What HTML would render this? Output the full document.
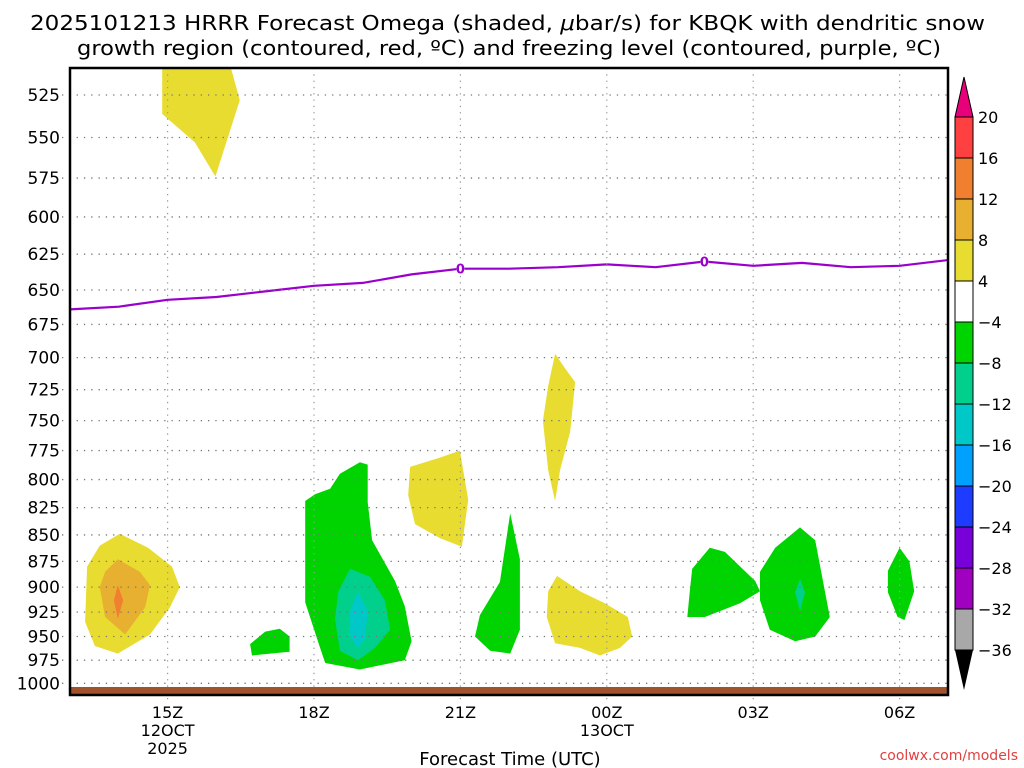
<!DOCTYPE html>
<html><head><meta charset="utf-8">
<style>
body{margin:0;background:#fff;}
svg{display:block;font-family:"DejaVu Sans","Liberation Sans",sans-serif;}
</style></head>
<body>
<svg id="chart" width="1024" height="768" viewBox="0 0 1024 768">
<text x="30" y="30" font-size="20" textLength="955" lengthAdjust="spacingAndGlyphs">2025101213 HRRR Forecast Omega (shaded, <tspan font-style="italic">μ</tspan>bar/s) for KBQK with dendritic snow</text>
<text x="77" y="55" font-size="20" textLength="864" lengthAdjust="spacingAndGlyphs">growth region (contoured, red, ºC) and freezing level (contoured, purple, ºC)</text>
<g id="plot"></g>
<text x="510" y="765" font-size="18" text-anchor="middle">Forecast Time (UTC)</text>
<text x="1018" y="760" font-size="14" text-anchor="end" fill="#e04040">coolwx.com/models</text>
<g id="cbar"></g>
</svg>
<script>
const pressureTicks=[525,550,575,600,625,650,675,700,725,750,775,800,825,850,875,900,925,950,975,1000];
const timeTicks=[{h:2,l:["15Z","12OCT","2025"]},{h:5,l:["18Z"]},{h:8,l:["21Z"]},{h:11,l:["00Z","13OCT"]},{h:14,l:["03Z"]},{h:17,l:["06Z"]}];
const freezingLevel=[664,662,657,655,651,647,645,639,635,635,634,632,634,630,633,631,634,633,629];
const freezingLabels=[8,13];
const cbLevels=[20,16,12,8,4,-4,-8,-12,-16,-20,-24,-28,-32,-36];
const cbColors=["#ff4040","#f08030","#e8b030","#e8dc30","#ffffff","#00d400","#00d08c","#00c8c8","#00a0ff","#1e3cff","#7800d8","#a000c0","#a8a8a8"];
const shapes=[
 {n:"yellow-top",c:"#e8dc30",p:[[1.89,508],[3.28,508],[3.48,528],[2.98,574],[2.56,553],[1.89,536]]},
 {n:"yellow-14z",c:"#e8dc30",p:[[1.02,849],[1.6,862],[2.09,880],[2.25,900],[2.05,920],[1.64,948],[0.98,968],[0.51,960],[0.31,935],[0.35,880],[0.61,860]]},
 {n:"orange-14z",c:"#e8b030",p:[[0.98,873],[1.43,885],[1.64,898],[1.54,920],[1.13,948],[0.72,930],[0.61,900],[0.72,885]]},
 {n:"darkorange-14z",c:"#f08030",p:[[0.98,898],[1.09,913],[0.98,932],[0.9,913]]},
 {n:"green-17z",c:"#00d400",p:[[3.69,958],[4.0,945],[4.3,942],[4.5,950],[4.5,966],[4.1,968],[3.73,970]]},
 {n:"green-19z",c:"#00d400",p:[[4.82,819],[5.02,813],[5.33,808],[5.53,795],[5.94,785],[6.1,787],[6.1,820],[6.19,855],[6.66,894],[6.86,919],[7.0,955],[6.86,975],[5.94,985],[5.23,978],[5.08,955],[4.82,915],[4.82,866]]},
 {n:"teal-19z",c:"#00d08c",p:[[5.74,882],[6.15,890],[6.45,913],[6.56,943],[6.25,962],[5.9,975],[5.53,965],[5.43,932],[5.5,904]]},
 {n:"cyan-19z",c:"#00c8c8",p:[[5.9,904],[6.1,924],[6.04,953],[5.9,962],[5.74,950],[5.74,924]]},
 {n:"yellow-21z",c:"#e8dc30",p:[[6.97,789],[7.58,781],[7.99,775],[8.16,818],[8.03,861],[7.58,853],[7.07,840],[6.93,814]]},
 {n:"green-22z",c:"#00d400",p:[[9.02,830],[9.22,873],[9.22,943],[9.02,968],[8.61,965],[8.3,950],[8.4,928],[8.81,895]]},
 {n:"yellow-23z-upper",c:"#e8dc30",p:[[9.94,697],[10.14,708],[10.35,719],[10.25,759],[10.04,792],[9.94,819],[9.8,792],[9.69,750],[9.8,722]]},
 {n:"yellow-23z-lower",c:"#e8dc30",p:[[9.98,889],[10.45,904],[10.96,916],[11.43,930],[11.52,950],[11.27,962],[10.86,970],[10.45,962],[9.94,957],[9.77,930],[9.8,904]]},
 {n:"green-02z",c:"#00d400",p:[[12.75,882],[13.11,862],[13.42,866],[14.04,894],[14.14,904],[13.73,916],[13.01,930],[12.65,930],[12.7,904]]},
 {n:"green-04z",c:"#00d400",p:[[14.14,885],[14.45,862],[14.96,843],[15.27,855],[15.47,904],[15.57,930],[15.27,950],[14.86,955],[14.34,943],[14.14,913]]},
 {n:"teal-04z",c:"#00d08c",p:[[14.96,892],[15.06,905],[14.96,924],[14.86,905]]},
 {n:"green-06z",c:"#00d400",p:[[17.0,862],[17.2,875],[17.3,904],[17.1,933],[16.96,930],[16.76,905],[16.76,884]]}
];
const NS="http://www.w3.org/2000/svg";
const X0=70,X1=948,Y0=68,Y1=695,PXH=48.8;
function xs(h){return X0+h*PXH;}
function ys(p){return 95+913*Math.log(p/525);}
function mk(tag,attrs,parent){const e=document.createElementNS(NS,tag);for(const k in attrs)e.setAttribute(k,attrs[k]);parent.appendChild(e);return e;}
const plot=document.getElementById("plot");
const svg=document.getElementById("chart");
const clip=mk("clipPath",{id:"pc"},svg);mk("rect",{x:X0,y:Y0,width:X1-X0,height:Y1-Y0},clip);
const g=mk("g",{"clip-path":"url(#pc)"},plot);
shapes.forEach(s=>{
 const e=mk("polygon",{points:s.p.map(q=>xs(q[0]).toFixed(1)+","+ys(q[1]).toFixed(1)).join(" "),fill:s.c},g);
 
 
});
pressureTicks.forEach(p=>{
 const y=ys(p);
 const l=mk("line",{x1:X0-8,x2:X1,y1:y,y2:y,stroke:"#777","stroke-width":1.3,"stroke-dasharray":"1.3 6"},plot);
 
 
 const t=mk("text",{x:X0-10,y:y+6,"font-size":17,"text-anchor":"end"},plot);t.textContent=p;
 
 
});
timeTicks.forEach(tk=>{
 const x=xs(tk.h);
 const l=mk("line",{x1:x,x2:x,y1:Y0,y2:Y1+8,stroke:"#999","stroke-width":1.2,"stroke-dasharray":"1.3 5"},plot);
 
 
 tk.l.forEach((s,i)=>{
  const t=mk("text",{x:x,y:718+i*18,"font-size":16,"text-anchor":"middle"},plot);t.textContent=s;
  
  
 });
});
const gr=mk("rect",{x:X0,y:687,width:X1-X0,height:8,fill:"#a0522d"},plot);


const fl=mk("polyline",{points:freezingLevel.map((p,i)=>xs(i).toFixed(1)+","+ys(p).toFixed(1)).join(" "),fill:"none",stroke:"#9900cc","stroke-width":2.2},g);


freezingLabels.forEach(i=>{
 const x=xs(i),y=ys(freezingLevel[i]);
 mk("rect",{x:x-4,y:y-6,width:8,height:12,fill:"#fff"},plot);
 const t=mk("text",{x:x,y:y+5,"font-size":13,"font-weight":"bold","text-anchor":"middle",fill:"#9900cc"},plot);t.textContent="0";
 
 
});
const fr=mk("rect",{x:X0,y:Y0,width:X1-X0,height:Y1-Y0,fill:"none",stroke:"#000","stroke-width":2.5},plot);


const cb=document.getElementById("cbar");
const CX=955,CW=18,CT=117,CS=(650-117)/13;
mk("polygon",{points:`${CX},${CT} ${CX+CW},${CT} ${CX+CW/2},77`,fill:"#e8007a",stroke:"#000","stroke-width":1},cb);
cbColors.forEach((c,i)=>{
 const r=mk("rect",{x:CX,y:CT+i*CS,width:CW,height:CS,fill:c,stroke:"#000","stroke-width":1},cb);
 
 
});
mk("polygon",{points:`${CX},650 ${CX+CW},650 ${CX+CW/2},690`,fill:"#000"},cb);
cbLevels.forEach((v,i)=>{
 const t=mk("text",{x:978,y:CT+i*CS+6,"font-size":16},cb);t.textContent=v<0?"−"+(-v):v;
 
 
});
</script>
</body></html>
